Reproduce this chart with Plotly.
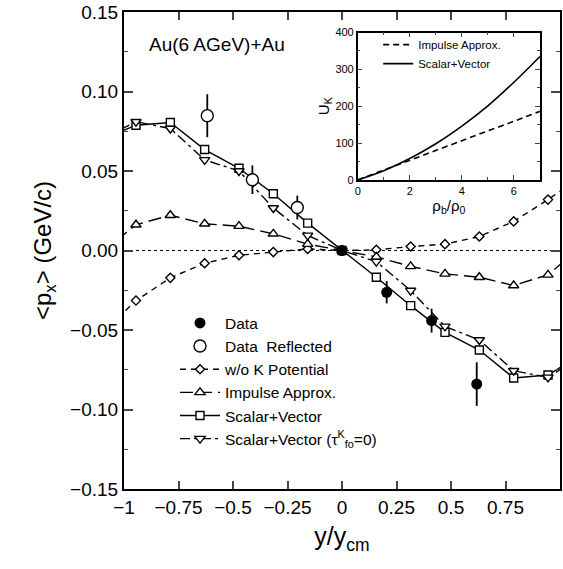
import plotly.graph_objects as go

# ---------------- data ----------------
x_model = [-1.1025, -0.945, -0.7875, -0.63, -0.4725, -0.315, -0.1575, 0.0,
           0.1575, 0.315, 0.4725, 0.63, 0.7875, 0.945, 1.1025]
y_wok = [-0.052, -0.0315, -0.0172, -0.008, -0.003, -0.001, 0.001, 0.0,
         0.0004, 0.0025, 0.004, 0.0088, 0.0183, 0.032, 0.047]
y_impulse = [-0.001, 0.0162, 0.0222, 0.0168, 0.0153, 0.0105, 0.004, 0.0,
             -0.004, -0.010, -0.0147, -0.0168, -0.022, -0.0153, 0.003]
y_sv = [0.0697, 0.0788, 0.0805, 0.0635, 0.0517, 0.0357, 0.0172, 0.0,
        -0.0168, -0.0347, -0.0515, -0.0626, -0.0802, -0.0783, -0.065]
y_sv_tau0 = [0.070, 0.081, 0.0767, 0.057, 0.050, 0.0267, 0.0095, 0.0,
             -0.007, -0.0252, -0.0477, -0.0563, -0.0756, -0.0798, -0.066]

x_data = [0.0, 0.205, 0.411, 0.618]
y_data = [0.0, -0.0263, -0.0441, -0.084]
err_data = [0.0, 0.007, 0.0075, 0.0137]

x_refl = [-0.205, -0.411, -0.618]
y_refl = [0.027, 0.0445, 0.0848]
err_refl = [0.0075, 0.009, 0.0135]

# inset: U_K vs rho_b/rho_0
rho = [0, 1, 2, 3, 4, 5, 6, 7]
uk_impulse = [0, 27, 53, 80, 106, 133, 159, 186]
uk_sv = [0, 25, 58, 98, 146, 201, 265, 335]

x_tickvals = [-1, -0.75, -0.5, -0.25, 0, 0.25, 0.5, 0.75, 1]
x_ticktext = ["\u22121", "\u22120.75", "\u22120.5", "\u22120.25", "0",
              "0.25", "0.5", "0.75", "1"]

FONT = "Liberation Sans, Arial, Helvetica, sans-serif"

fig = go.Figure()

def model(x, y, name, symbol, dash, size, rank):
    fig.add_trace(go.Scatter(
        x=x, y=y, name=name, mode="lines+markers",
        line=dict(color="black", width=1.4, dash=dash),
        marker=dict(symbol=symbol, size=size, color="white",
                    line=dict(color="black", width=1.4)),
        legend="legend", legendrank=rank))

model(x_model, y_wok, "w/o K Potential", "diamond", "6px,5px", 7, 3)
model(x_model, y_impulse, "Impulse Approx.", "triangle-up", "13px,6px", 9, 4)
model(x_model, y_sv, "Scalar+Vector", "square", "solid", 8, 5)
model(x_model, y_sv_tau0,
      "Scalar+Vector (\u03c4<sup>K</sup><sub>fo</sub>=0)",
      "triangle-down", "10px,4px,3px,4px", 9, 6)

fig.add_trace(go.Scatter(
    x=x_data, y=y_data, name="Data", mode="markers",
    marker=dict(symbol="circle", size=11, color="black"),
    error_y=dict(type="data", array=err_data, color="black",
                 thickness=1.8, width=0),
    legend="legend", legendrank=1))
fig.add_trace(go.Scatter(
    x=x_refl, y=y_refl, name="Data  Reflected", mode="markers",
    marker=dict(symbol="circle", size=12, color="white",
                line=dict(color="black", width=1.4)),
    error_y=dict(type="data", array=err_refl, color="black",
                 thickness=1.8, width=0),
    legend="legend", legendrank=2))

# inset traces
fig.add_trace(go.Scatter(
    x=rho, y=uk_impulse, name="Impulse Approx.", mode="lines",
    line=dict(color="black", width=1.6, dash="6px,4px"),
    xaxis="x2", yaxis="y2", legend="legend2", legendrank=1))
fig.add_trace(go.Scatter(
    x=rho, y=uk_sv, name="Scalar+Vector", mode="lines",
    line=dict(color="black", width=1.6, shape="spline"),
    xaxis="x2", yaxis="y2", legend="legend2", legendrank=2))

fig.add_shape(type="line", xref="x domain", yref="y", x0=0, x1=1, y0=0, y1=0,
              line=dict(color="black", width=1, dash="dot"), layer="below")

fig.add_annotation(text="Au(6 AGeV)+Au", xref="paper", yref="paper",
                   x=0.053, y=0.931, xanchor="left", yanchor="middle",
                   showarrow=False, font=dict(size=19, color="black"))

fig.update_layout(
    width=563, height=569,
    margin=dict(l=124, r=3, t=12, b=80),
    paper_bgcolor="white", plot_bgcolor="white",
    font=dict(family=FONT, color="black"),
    legend=dict(x=0.117, y=0.383, xanchor="left", yanchor="top",
                bgcolor="rgba(0,0,0,0)", font=dict(size=15.5),
                traceorder="normal", tracegroupgap=0, itemwidth=40),
    legend2=dict(x=0.583, y=0.962, xanchor="left", yanchor="top",
                 bgcolor="rgba(0,0,0,0)", font=dict(size=11.5),
                 traceorder="normal", itemwidth=30),
    xaxis=dict(range=[-1, 1], tickvals=x_tickvals, ticktext=x_ticktext,
               ticks="inside", ticklen=8, tickwidth=1.5, showline=True,
               linewidth=2, linecolor="black", mirror="ticks",
               showgrid=False, zeroline=False, tickfont=dict(size=19),
               automargin=False,
               title=dict(text="y/y<sub>cm</sub>", font=dict(size=25),
                          standoff=11)),
    yaxis=dict(range=[-0.15, 0.15], dtick=0.05, tick0=0, tickformat=".2f",
               ticks="inside", ticklen=9, tickwidth=1.5, showline=True,
               linewidth=2, linecolor="black", mirror="ticks",
               showgrid=False, zeroline=False, tickfont=dict(size=19),
               automargin=False,
               minor=dict(dtick=0.025, ticks="inside", ticklen=4,
                          tickwidth=1.2, showgrid=False),
               title=dict(text="&lt;p<sub>x</sub>&gt; (GeV/c)",
                          font=dict(size=24), standoff=12)),
    xaxis2=dict(domain=[0.536, 0.954], anchor="y2", range=[0, 7],
                tickvals=[0, 2, 4, 6], ticks="inside", ticklen=5,
                tickwidth=1.2, showline=True, linewidth=1.5,
                linecolor="black", mirror="ticks", showgrid=False,
                zeroline=False, tickfont=dict(size=11), automargin=False,
                minor=dict(dtick=1, ticks="inside", ticklen=3,
                           showgrid=False),
                title=dict(text="\u03c1<sub>b</sub>/\u03c1<sub>0</sub>",
                           font=dict(size=15), standoff=4)),
    yaxis2=dict(domain=[0.648, 0.957], anchor="x2", range=[0, 400],
                dtick=100, ticks="inside", ticklen=5, tickwidth=1.2,
                showline=True, linewidth=1.5, linecolor="black",
                mirror="ticks", showgrid=False, zeroline=False,
                tickfont=dict(size=11), automargin=False,
                minor=dict(dtick=50, ticks="inside", ticklen=3,
                           showgrid=False),
                title=dict(text="U<sub>K</sub>", font=dict(size=15),
                           standoff=2)),
)

fig.write_html("out.html",
               config={"displayModeBar": False},
               post_script="document.body.style.margin='0';"
                           "document.body.style.padding='0';")
